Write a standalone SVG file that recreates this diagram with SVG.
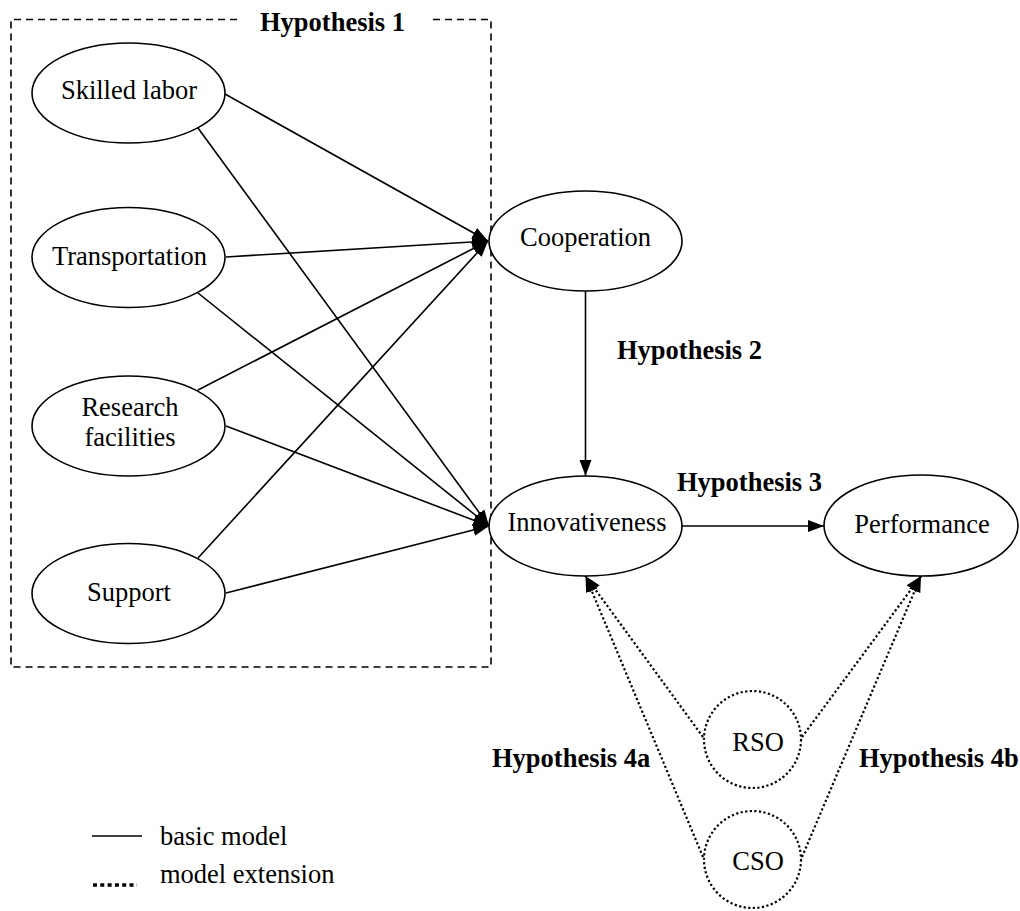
<svg xmlns="http://www.w3.org/2000/svg" width="1020" height="911" viewBox="0 0 1020 911">
<style>
.node{fill:#fff;stroke:#000;stroke-width:1.6}
.dnode{fill:#fff;stroke:#000;stroke-width:2.2;stroke-dasharray:2.2 2.4}
.t{font-family:"Liberation Serif","Times New Roman",serif;font-size:26.5px;fill:#000;text-anchor:middle}
.h{font-family:"Liberation Serif","Times New Roman",serif;font-size:26.5px;font-weight:bold;fill:#000}
.e{fill:none;stroke:#000;stroke-width:1.6}
.d{fill:none;stroke:#000;stroke-width:2.2;stroke-dasharray:2.2 2.4}
.box{fill:none;stroke:#000;stroke-width:1.6;stroke-dasharray:7 5}
</style>
<defs>
<marker id="arr" markerUnits="userSpaceOnUse" markerWidth="17" markerHeight="13" refX="16" refY="6" orient="auto">
<path d="M0,0 L16,6 L0,12 z" fill="#000" stroke="none"/>
</marker>
</defs>
<g id="hyp1-box">
<path class="box" d="M237,19.5 L11,19.5 L11,667 L491,667 L491,19.5 L430,19.5"/>
<text class="h" x="260" y="31">Hypothesis 1</text>
</g>
<g id="connectors">
<line class="e" x1="225" y1="94" x2="488" y2="241" marker-end="url(#arr)"/>
<line class="e" x1="198" y1="128" x2="489" y2="526" marker-end="url(#arr)"/>
<line class="e" x1="226" y1="257" x2="488" y2="241" marker-end="url(#arr)"/>
<line class="e" x1="198" y1="293" x2="489" y2="526" marker-end="url(#arr)"/>
<line class="e" x1="198" y1="390" x2="488" y2="241" marker-end="url(#arr)"/>
<line class="e" x1="226" y1="426" x2="489" y2="526" marker-end="url(#arr)"/>
<line class="e" x1="198" y1="558" x2="488" y2="241" marker-end="url(#arr)"/>
<line class="e" x1="226" y1="593" x2="489" y2="526" marker-end="url(#arr)"/>
<line class="e" x1="585.5" y1="291" x2="585.5" y2="476" marker-end="url(#arr)"/>
<line class="e" x1="682" y1="526" x2="824" y2="526" marker-end="url(#arr)"/>
<line class="d" x1="703" y1="737" x2="585.5" y2="576" marker-end="url(#arr)"/>
<line class="d" x1="703" y1="857" x2="585.5" y2="576" marker-end="url(#arr)"/>
<line class="d" x1="802" y1="737" x2="921" y2="576" marker-end="url(#arr)"/>
<line class="d" x1="802" y1="857" x2="921" y2="576" marker-end="url(#arr)"/>
</g>
<g id="skilled-labor">
<ellipse class="node" cx="128.5" cy="93" rx="96.5" ry="50"/>
<text class="t" x="129" y="99">Skilled labor</text>
</g>
<g id="transportation">
<ellipse class="node" cx="128.5" cy="257.5" rx="96.5" ry="50"/>
<text class="t" x="129.5" y="265">Transportation</text>
</g>
<g id="research-facilities">
<ellipse class="node" cx="128.5" cy="426" rx="96.5" ry="50"/>
<text class="t" x="130" y="416">Research</text>
<text class="t" x="130" y="446">facilities</text>
</g>
<g id="support">
<ellipse class="node" cx="128.5" cy="593.5" rx="96.5" ry="50"/>
<text class="t" x="129" y="601">Support</text>
</g>
<g id="cooperation">
<ellipse class="node" cx="585.5" cy="241" rx="96.5" ry="50"/>
<text class="t" x="585.5" y="246">Cooperation</text>
</g>
<g id="innovativeness">
<ellipse class="node" cx="585.5" cy="526" rx="96.5" ry="50"/>
<text class="t" x="587" y="531">Innovativeness</text>
</g>
<g id="performance">
<ellipse class="node" cx="921" cy="525.5" rx="97" ry="50.5"/>
<text class="t" x="922" y="533">Performance</text>
</g>
<g id="rso">
<circle class="dnode" cx="752.5" cy="739.5" r="48.5"/>
<text class="t" x="758" y="751">RSO</text>
</g>
<g id="cso">
<circle class="dnode" cx="752.5" cy="859.5" r="48.5"/>
<text class="t" x="758" y="870">CSO</text>
</g>
<g id="labels">
<text class="h" x="617" y="359">Hypothesis 2</text>
<text class="h" x="677" y="491">Hypothesis 3</text>
<text class="h" x="492" y="767">Hypothesis 4a</text>
<text class="h" x="859" y="767">Hypothesis 4b</text>
</g>
<g id="legend">
<line class="e" x1="92" y1="836" x2="142" y2="836"/>
<line x1="93" y1="885" x2="137" y2="885" stroke="#000" stroke-width="3.5" stroke-dasharray="4 3.3"/>
<text class="t" x="160" y="845" style="text-anchor:start">basic model</text>
<text class="t" x="160" y="883" style="text-anchor:start">model extension</text>
</g>
</svg>
